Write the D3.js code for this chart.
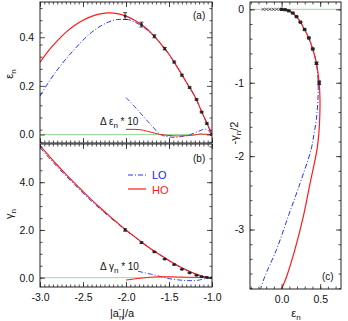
<!DOCTYPE html>
<html><head><meta charset="utf-8">
<script src="https://cdn.jsdelivr.net/npm/d3@7"></script>
<style>body{margin:0;background:#fff}</style>
</head><body><svg id="c" width="348" height="321"></svg>
<script>
// ---------- data ----------
// panel (a): eps_n vs |a_n^-|/a
const curveX   = [-3.0,-2.9,-2.8,-2.7,-2.6,-2.5,-2.4,-2.3,-2.2,-2.1,-2.0,-1.9,-1.8,-1.7,-1.6,-1.5,-1.4,-1.3,-1.2,-1.1,-1.0];
const hoEps    = [0.297,0.345,0.385,0.420,0.448,0.470,0.486,0.496,0.500,0.497,0.487,0.470,0.447,0.415,0.375,0.330,0.275,0.216,0.157,0.078,0.0];
const loEps    = [0.158,0.215,0.265,0.310,0.350,0.388,0.420,0.445,0.463,0.473,0.474,0.463,0.442,0.413,0.375,0.330,0.275,0.216,0.157,0.078,0.0];
// panel (b): gamma_n
const hoGam    = [5.53,5.12,4.72,4.34,3.97,3.61,3.26,2.93,2.61,2.30,2.00,1.72,1.44,1.18,0.95,0.72,0.51,0.33,0.17,0.05,0.0];
const loGam    = [5.45,5.04,4.64,4.27,3.90,3.54,3.20,2.88,2.57,2.27,1.98,1.71,1.43,1.17,0.94,0.71,0.50,0.32,0.16,0.05,0.0];
// data points with error bars
const ptX      = [-2.01,-1.82,-1.67,-1.55,-1.44,-1.35,-1.26,-1.18,-1.12,-1.06,-1.0];
const ptEps    = [0.487,0.452,0.404,0.353,0.298,0.244,0.193,0.144,0.092,0.045,0.0];
const ptEpsErr = [0.014,0.010,0.006,0.005,0.004,0.004,0.003,0.003,0.003,0.003,0.003];
const ptGam    = [2.00,1.47,1.08,0.78,0.55,0.35,0.20,0.10,0.04,0.01,0.0];
const ptGamErr = [0.05,0.03,0.02,0.02,0.02,0.01,0.01,0.01,0.01,0.01,0.01];
// differences (times 10)
const dEpsLoX  = [-2.0,-1.9,-1.8,-1.7,-1.6,-1.5,-1.43,-1.35,-1.25,-1.15,-1.08,-1.04,-1.0];
const dEpsLo   = [0.152,0.115,0.075,0.036,0.0,-0.010,-0.012,-0.008,0.0,0.014,0.022,0.015,0.0];
const dEpsHoX  = [-2.0,-1.9,-1.84,-1.75,-1.65,-1.6,-1.5,-1.4,-1.3,-1.2,-1.14,-1.08,-1.0];
const dEpsHo   = [0.021,0.021,0.020,0.013,0.004,0.0,-0.004,-0.006,-0.005,-0.002,0.002,0.001,0.0];
const dGamLoX  = [-1.86,-1.8,-1.7,-1.6,-1.5,-1.4,-1.3,-1.22,-1.15,-1.08,-1.0];
const dGamLo   = [0.27,0.22,0.14,0.05,-0.04,-0.09,-0.12,-0.125,-0.10,-0.04,0.0];
const dGamHoX  = [-2.0,-1.9,-1.8,-1.7,-1.6,-1.5,-1.4,-1.3,-1.2,-1.1,-1.0];
const dGamHo   = [-0.10,-0.05,-0.01,0.025,0.04,0.04,0.03,0.02,0.015,0.01,0.0];
// panel (c): -gamma_n/2 vs eps_n
const cHoEps   = [0,0.047,0.094,0.141,0.192,0.245,0.297,0.352,0.403,0.452,0.487,0.497,0.495,0.482,0.46,0.42,0.369,0.282,0.173,0.065,0];
const cHoY     = [0,-0.005,-0.02,-0.05,-0.1,-0.175,-0.275,-0.39,-0.54,-0.735,-1.0,-1.2,-1.45,-1.7,-1.9,-2.12,-2.37,-2.82,-3.27,-3.64,-3.81];
const cLoEps   = [0,0.047,0.094,0.141,0.192,0.245,0.297,0.352,0.403,0.45,0.474,0.47,0.45,0.42,0.382,0.239,0.086,-0.065,-0.218,-0.274];
const cLoY     = [0,-0.005,-0.02,-0.05,-0.1,-0.175,-0.275,-0.39,-0.54,-0.73,-0.99,-1.25,-1.5,-1.7,-1.91,-2.37,-2.82,-3.27,-3.64,-3.81];
const crossEps = [-0.24,-0.196,-0.152,-0.108,-0.064,-0.02];
// ticks
const xTicksAB = [-3.0,-2.5,-2.0,-1.5,-1.0];
const xLabelsAB = ["-3.0","-2.5","-2.0","-1.5","-1.0"];
const yTicksA = [0.0,0.2,0.4];   const yLabelsA = ["0.0","0.2","0.4"];
const yTicksB = [0.0,2.0,4.0];   const yLabelsB = ["0.0","2.0","4.0"];
const xTicksC = [0.0,0.5];       const xLabelsC = ["0.0","0.5"];
const yTicksC = [0,-1,-2,-3];    const yLabelsC = ["0","-1","-2","-3"];

// ---------- setup ----------
const FONT = "'Liberation Sans', Arial, Helvetica, sans-serif";
const RED = "#ff1a1a", BLUE = "#2233ff", GREEN = "#99dd99", INK = "#222";
const svg = d3.select("#c");

const xAB = d3.scaleLinear().domain([-3,-1]).range([40,212]);
const yA = d3.scaleLinear().domain([-0.035,0.545]).range([143,2]);
const yB = d3.scaleLinear().domain([-0.39,5.6]).range([287,144]);
const xC = d3.scaleLinear().domain([-0.41,0.77]).range([250,341]);
const yC = d3.scaleLinear().domain([-3.81,0.1]).range([289,2]);

function rng(a,b,s){ return d3.range(Math.round((b-a)/s)+1).map(i=>+(a+i*s).toFixed(6)); }

function side(axisFn, scale, vals, size, labels, pad, tr){
  const a = axisFn(scale).tickValues(vals).tickSizeInner(-size).tickSizeOuter(0).tickPadding(pad)
    .tickFormat(labels ? (d,i)=>labels[i] : ()=>"");
  const s = svg.append("g").attr("transform",tr).call(a);
  s.select(".domain").remove();
  s.attr("font-family",FONT).attr("font-size",10.5);
  s.selectAll(".tick line").attr("stroke",INK).attr("stroke-width",0.8);
  s.selectAll(".tick text").attr("fill","#111");
  if(!labels) s.selectAll(".tick text").remove();
}
function frame(x,y,majX,minX,majY,minY,labX,labY){
  const [L,R]=x.range(), [B,T]=y.range();
  side(d3.axisBottom,x,majX,5,labX,7,`translate(0,${B})`);
  side(d3.axisBottom,x,minX,2.5,null,0,`translate(0,${B})`);
  side(d3.axisTop,x,majX,5,null,0,`translate(0,${T})`);
  side(d3.axisTop,x,minX,2.5,null,0,`translate(0,${T})`);
  side(d3.axisLeft,y,majY,5,labY,6,`translate(${L},0)`);
  side(d3.axisLeft,y,minY,2.5,null,0,`translate(${L},0)`);
  side(d3.axisRight,y,majY,5,null,0,`translate(${R},0)`);
  side(d3.axisRight,y,minY,2.5,null,0,`translate(${R},0)`);
  svg.append("rect").attr("x",L).attr("y",T).attr("width",R-L).attr("height",B-T)
    .attr("fill","none").attr("stroke",INK).attr("stroke-width",1);
}
let clipN=0;
function clipG(x,y){
  const id="cl"+(clipN++); const [L,R]=x.range(), [B,T]=y.range();
  svg.append("clipPath").attr("id",id).append("rect").attr("x",L).attr("y",T).attr("width",R-L).attr("height",B-T);
  return svg.append("g").attr("clip-path",`url(#${id})`);
}
function path(g,x,y,xs,ys,color,w,dash,curve){
  const line = d3.line().x(d=>x(d[0])).y(d=>y(d[1])).curve(curve||d3.curveMonotoneX);
  const p = g.append("path").datum(xs.map((v,i)=>[v,ys[i]])).attr("d",line)
    .attr("fill","none").attr("stroke",color).attr("stroke-width",w);
  if(dash) p.attr("stroke-dasharray",dash);
  return p;
}
const DASHDOT = "5,2,1,2";
function points(g,x,y,xs,ys,errs,sz){
  xs.forEach((v,i)=>{
    const px=x(v), py=y(ys[i]);
    if(errs){
      const e=errs[i], y1=y(ys[i]-e), y2=y(ys[i]+e);
      g.append("line").attr("x1",px).attr("x2",px).attr("y1",y1).attr("y2",y2).attr("stroke","#111").attr("stroke-width",0.8);
      [y1,y2].forEach(yy=>g.append("line").attr("x1",px-2).attr("x2",px+2).attr("y1",yy).attr("y2",yy).attr("stroke","#111").attr("stroke-width",0.8));
    }
    g.append("rect").attr("x",px-sz/2).attr("y",py-sz/2).attr("width",sz).attr("height",sz).attr("fill","#222");
  });
}
function txt(x,y,parts,opt={}){
  const t = svg.append("text").attr("x",x).attr("y",y).attr("font-family",FONT)
    .attr("font-size",opt.size||11).attr("fill",opt.fill||"#111");
  if(opt.anchor) t.attr("text-anchor",opt.anchor);
  if(opt.rotate) t.attr("transform",`rotate(-90,${x},${y})`);
  parts.forEach(p=>{
    const s=t.append("tspan").text(p[0]);
    if(p[1]) s.attr("dy",p[1]);
    if(p[2]) s.attr("font-size",p[2]);
    if(p[3]) s.attr("dx",p[3]);
  });
  return t;
}

// ---------- panel (a) ----------
{
  const g = clipG(xAB,yA);
  path(g,xAB,yA,[-3,-1],[0,0],GREEN,1);
  path(g,xAB,yA,dEpsLoX,dEpsLo,BLUE,0.9,DASHDOT);
  path(g,xAB,yA,dEpsHoX,dEpsHo,RED,1);
  path(g,xAB,yA,curveX,loEps,BLUE,1,DASHDOT);
  path(g,xAB,yA,curveX,hoEps,RED,1.2);
  points(g,xAB,yA,ptX,ptEps,ptEpsErr,2.6);
  frame(xAB,yA,xTicksAB,rng(-3,-1,0.05),yTicksA,rng(-0.03,0.54,0.05).map(v=>+v.toFixed(2)).filter(v=>v>=-0.035&&v<=0.545),null,yLabelsA);
  txt(193,19,[["(a)"]],{size:10});
  txt(100,125,[["Δ ε"],["n",3,8],[" * 10",-3,10]],{size:10});
}
// ---------- panel (b) ----------
{
  const g = clipG(xAB,yB);
  path(g,xAB,yB,[-3,-1],[0,0],GREEN,1);
  path(g,xAB,yB,dGamLoX,dGamLo,BLUE,0.9,DASHDOT);
  path(g,xAB,yB,dGamHoX,dGamHo,RED,1);
  path(g,xAB,yB,curveX,loGam,BLUE,1,DASHDOT);
  path(g,xAB,yB,curveX,hoGam,RED,1.2);
  points(g,xAB,yB,ptX,ptGam,ptGamErr,2.6);
  frame(xAB,yB,xTicksAB,rng(-3,-1,0.05),yTicksB,rng(0,5.5,0.5),xLabelsAB,yLabelsB);
  txt(193,162,[["(b)"]],{size:10});
  txt(100,270,[["Δ γ"],["n",3,8],[" * 10",-3,10]],{size:10});
  // legend
  svg.append("line").attr("x1",128).attr("x2",146).attr("y1",175).attr("y2",175).attr("stroke",BLUE).attr("stroke-dasharray",DASHDOT);
  txt(152,179,[["LO"]],{size:11,fill:"#1a1aff"});
  svg.append("line").attr("x1",128).attr("x2",146).attr("y1",189).attr("y2",189).attr("stroke",RED).attr("stroke-width",1.2);
  txt(152,193.5,[["HO"]],{size:11,fill:"#ff1a1a"});
  // x axis title
  txt(110,317,[["|a"],["n",3,8],["-",-9,8,-5],["|/a",6,11,1]],{size:11});
}
// ---------- panel (c) ----------
{
  const g = clipG(xC,yC);
  path(g,xC,yC,[-0.41,0.77],[0,0],GREEN,1);
  path(g,xC,yC,cLoEps,cLoY,BLUE,1,DASHDOT,d3.curveCatmullRom);
  path(g,xC,yC,cHoEps,cHoY,RED,1.2,null,d3.curveCatmullRom);
  crossEps.forEach(e=>{
    const px=xC(e), py=yC(0);
    g.append("path").attr("d",`M${px-1.5},${py-1.5}L${px+1.5},${py+1.5}M${px-1.5},${py+1.5}L${px+1.5},${py-1.5}`)
      .attr("stroke","#444").attr("stroke-width",0.8);
  });
  points(g,xC,yC,ptEps,ptGam.map(v=>-v/2),ptGamErr.map(v=>v/2),3.2);
  frame(xC,yC,xTicksC,rng(-0.4,0.7,0.1),yTicksC,rng(-3.8,0,0.2),xLabelsC,yLabelsC);
  txt(322,280,[["(c)"]],{size:10});
  txt(238,133,[["-γ"],["n",3,8],["/2",-3,11]],{size:11,anchor:"middle",rotate:true});
  txt(296,317,[["ε"],["n",3,8]],{size:11,anchor:"middle"});
}
// y titles
txt(13,74,[["ε"],["n",3,8]],{size:11,anchor:"middle",rotate:true});
txt(13,214,[["γ"],["n",3,8]],{size:11,anchor:"middle",rotate:true});
</script></body></html>
